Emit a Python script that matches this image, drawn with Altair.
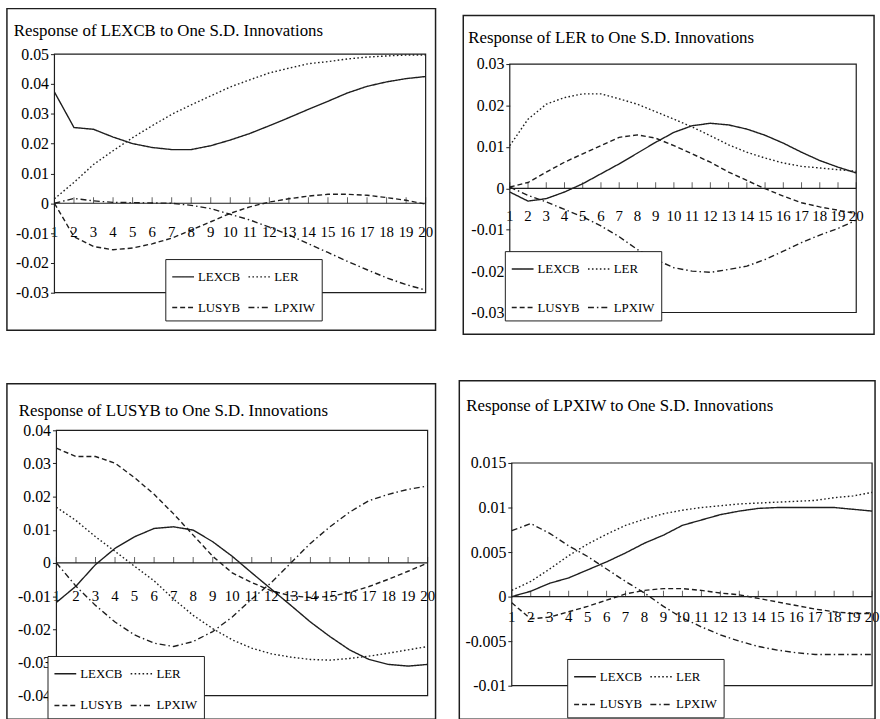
import altair as alt
import pandas as pd

FONT = "Liberation Serif"
INK = "#1e1e1e"

periods = list(range(1, 21))
series_names = ["LEXCB", "LER", "LUSYB", "LPXIW"]
dash_styles = [[1, 0], [1.6, 2.4], [5, 3], [6, 3, 1.5, 3]]

titles = [
    "Response of LEXCB to One S.D. Innovations",
    "Response of LER to One S.D. Innovations",
    "Response of LUSYB to One S.D. Innovations",
    "Response of LPXIW to One S.D. Innovations",
]

# Panel 1: response of LEXCB
p1_lexcb = [0.0373, 0.0254, 0.0248, 0.0222, 0.0200, 0.0187, 0.0180, 0.0180, 0.0193, 0.0212,
            0.0234, 0.0260, 0.0287, 0.0315, 0.0342, 0.0370, 0.0392, 0.0407, 0.0418, 0.0425]
p1_ler = [0.0015, 0.0070, 0.0130, 0.0176, 0.0220, 0.0260, 0.0298, 0.0330, 0.0360, 0.0390,
          0.0414, 0.0437, 0.0453, 0.0468, 0.0475, 0.0484, 0.0490, 0.0494, 0.0497, 0.0497]
p1_lusyb = [0.0000, -0.0112, -0.0145, -0.0156, -0.0150, -0.0136, -0.0117, -0.0090, -0.0062, -0.0034,
            -0.0012, 0.0004, 0.0015, 0.0024, 0.0030, 0.0030, 0.0027, 0.0019, 0.0010, -0.0003]
p1_lpxiw = [0.0000, 0.0016, 0.0008, 0.0003, 0.0002, 0.0001, 0.0000, -0.0007, -0.0018, -0.0037,
            -0.0056, -0.0080, -0.0106, -0.0136, -0.0165, -0.0195, -0.0223, -0.0250, -0.0273, -0.0291]

# Panel 2: response of LER
p2_lexcb = [-0.0009, -0.0031, -0.0025, -0.0009, 0.0011, 0.0035, 0.0059, 0.0085, 0.0111, 0.0135,
            0.0151, 0.0157, 0.0153, 0.0143, 0.0128, 0.0109, 0.0087, 0.0067, 0.0051, 0.0037]
p2_ler = [0.0103, 0.0167, 0.0203, 0.0219, 0.0228, 0.0228, 0.0216, 0.0203, 0.0185, 0.0167,
          0.0148, 0.0127, 0.0105, 0.0087, 0.0073, 0.0061, 0.0053, 0.0049, 0.0045, 0.0041]
p2_lusyb = [0.0003, 0.0014, 0.0039, 0.0063, 0.0083, 0.0103, 0.0123, 0.0129, 0.0121, 0.0103,
            0.0083, 0.0063, 0.0039, 0.0019, -0.0001, -0.0019, -0.0035, -0.0045, -0.0053, -0.0061]
p2_lpxiw = [0.0003, -0.0017, -0.0033, -0.0051, -0.0069, -0.0091, -0.0117, -0.0148, -0.0172, -0.0192,
            -0.0200, -0.0203, -0.0196, -0.0188, -0.0172, -0.0152, -0.0131, -0.0113, -0.0097, -0.0077]

# Panel 3: response of LUSYB
p3_lexcb = [-0.0119, -0.0070, -0.0005, 0.0044, 0.0079, 0.0104, 0.0109, 0.0099, 0.0064, 0.0020,
            -0.0030, -0.0079, -0.0128, -0.0178, -0.0222, -0.0262, -0.0291, -0.0306, -0.0311, -0.0306]
p3_ler = [0.0168, 0.0128, 0.0079, 0.0035, -0.0010, -0.0054, -0.0109, -0.0158, -0.0198, -0.0232,
          -0.0257, -0.0274, -0.0284, -0.0291, -0.0293, -0.0288, -0.0281, -0.0272, -0.0262, -0.0252]
p3_lusyb = [0.0346, 0.0321, 0.0321, 0.0301, 0.0257, 0.0207, 0.0148, 0.0084, 0.0020, -0.0030,
            -0.0059, -0.0084, -0.0099, -0.0104, -0.0101, -0.0089, -0.0071, -0.0049, -0.0025, 0.0000]
p3_lpxiw = [0.0000, -0.0070, -0.0128, -0.0178, -0.0217, -0.0242, -0.0252, -0.0237, -0.0207, -0.0163,
            -0.0109, -0.0059, 0.0000, 0.0059, 0.0109, 0.0153, 0.0188, 0.0207, 0.0222, 0.0232]

# Panel 4: response of LPXIW
p4_lexcb = [0.0000, 0.0006, 0.0015, 0.0021, 0.0030, 0.0039, 0.0049, 0.0060, 0.0069, 0.0080,
            0.0086, 0.0092, 0.0096, 0.0099, 0.0100, 0.0100, 0.0100, 0.0100, 0.0098, 0.0096]
p4_ler = [0.0007, 0.0017, 0.0031, 0.0046, 0.0059, 0.0070, 0.0080, 0.0087, 0.0093, 0.0097,
          0.0100, 0.0102, 0.0104, 0.0105, 0.0106, 0.0107, 0.0108, 0.0111, 0.0113, 0.0117]
p4_lusyb = [-0.0007, -0.0025, -0.0023, -0.0017, -0.0011, -0.0004, 0.0003, 0.0007, 0.0009, 0.0009,
            0.0007, 0.0004, 0.0002, -0.0002, -0.0006, -0.0010, -0.0014, -0.0017, -0.0019, -0.0019]
p4_lpxiw = [0.0074, 0.0082, 0.0071, 0.0057, 0.0045, 0.0031, 0.0017, 0.0004, -0.0011, -0.0024,
            -0.0034, -0.0043, -0.0050, -0.0056, -0.0060, -0.0063, -0.0065, -0.0065, -0.0065, -0.0065]

y_domains = [[-0.03, 0.05], [-0.03, 0.03], [-0.04, 0.04], [-0.01, 0.015]]
y_ticks = [
    [0.05, 0.04, 0.03, 0.02, 0.01, 0, -0.01, -0.02, -0.03],
    [0.03, 0.02, 0.01, 0, -0.01, -0.02, -0.03],
    [0.04, 0.03, 0.02, 0.01, 0, -0.01, -0.02, -0.03, -0.04],
    [0.015, 0.01, 0.005, 0, -0.005, -0.01],
]
panel_series = [
    [p1_lexcb, p1_ler, p1_lusyb, p1_lpxiw],
    [p2_lexcb, p2_ler, p2_lusyb, p2_lpxiw],
    [p3_lexcb, p3_ler, p3_lusyb, p3_lpxiw],
    [p4_lexcb, p4_ler, p4_lusyb, p4_lpxiw],
]

# Layout in pixels, relative to each panel's view origin:
# Wv/Hv view size, lead = frame top offset, plot box (px0, px1, py0, py1),
# title position, legend position / row padding, x label gap below the zero line
layouts = [
    dict(Wv=433, Hv=325, lead=0, px0=48, px1=423, py0=46, py1=287,
         tx=7, ty=28, lx=160, ly=253, rp=12, lp=22),
    dict(Wv=415, Hv=329, lead=7, px0=47, px1=397, py0=56, py1=307,
         tx=5, ty=35, lx=42, ly=245, rp=20, lp=21),
    dict(Wv=433, Hv=342, lead=3, px0=50, px1=425, py0=50, py1=318,
         tx=12, ty=36, lx=41, ly=278, rp=13, lp=26),
    dict(Wv=420, Hv=342, lead=0, px0=53, px1=417, py0=83, py1=308,
         tx=7, ty=31, lx=109, ly=281, rp=9, lp=14),
]


def make_panel(i):
    g = layouts[i]
    Wv, Hv = g["Wv"], g["Hv"]
    ymin, ymax = y_domains[i]
    rows = []
    for name, vals in zip(series_names, panel_series[i]):
        for p, v in zip(periods, vals):
            rows.append({"period": p, "series": name, "value": v})
    df = pd.DataFrame(rows)
    one = pd.DataFrame({"k": [0]})
    tick_df = pd.DataFrame({"period": periods})

    xscale = alt.Scale(domain=[1, 20], nice=False, zero=False, range=[g["px0"], g["px1"]])
    yscale = alt.Scale(domain=y_domains[i], nice=False, zero=False, range=[g["py1"], g["py0"]])

    lines = alt.Chart(df).mark_line(color=INK, strokeWidth=1.4).encode(
        x=alt.X("period:Q", scale=xscale, axis=None),
        y=alt.Y("value:Q", scale=yscale,
                axis=alt.Axis(values=y_ticks[i], format="~g",
                              labelExpr="replace(datum.label, '\u2212', '-')",
                              title=None, orient="left", offset=-g["px0"], tickSize=4,
                              labelPadding=2, domain=False, labelFontSize=16)),
        strokeDash=alt.StrokeDash(
            "series:N",
            scale=alt.Scale(domain=series_names, range=dash_styles),
            legend=alt.Legend(title=None, orient="none", legendX=g["lx"], legendY=g["ly"],
                              direction="horizontal", columns=2, rowPadding=g["rp"],
                              columnPadding=5, symbolType="stroke", symbolSize=484,
                              symbolStrokeWidth=1.4, symbolStrokeColor=INK, labelOffset=3,
                              padding=6, strokeColor=INK, fillColor="white",
                              labelFont=FONT, labelFontSize=13, labelColor="black")),
    )

    zero = alt.Chart(one).mark_rule(color=INK, strokeWidth=1.2).encode(
        x=alt.XDatum(1, axis=None), x2=alt.datum(20), y=alt.datum(0))
    ticks = alt.Chart(tick_df).mark_tick(orient="vertical", size=6, thickness=1, color=INK,
                                         yOffset=-3).encode(
        x=alt.X("period:Q", axis=None), y=alt.datum(0))
    xlabels = alt.Chart(tick_df).mark_text(baseline="top", align="center", dy=g["lp"],
                                           font=FONT, fontSize=15, color="black").encode(
        x=alt.X("period:Q", axis=None), y=alt.datum(0), text=alt.Text("period:Q", format="d"))
    plotbox = alt.Chart(one).mark_rect(filled=False, stroke=INK, strokeWidth=1.2).encode(
        x=alt.XDatum(1, axis=None), x2=alt.datum(20), y=alt.datum(ymin), y2=alt.datum(ymax))
    frame = alt.Chart(one).mark_rect(filled=False, stroke=INK, strokeWidth=1.5).encode(
        x=alt.value(0), x2=alt.value(Wv),
        y=alt.value(g["lead"]), y2=alt.value(Hv))
    title = alt.Chart(one).mark_text(align="left", baseline="alphabetic", font=FONT,
                                     fontSize=17, color="black").encode(
        x=alt.value(g["tx"]), y=alt.value(g["ty"]), text=alt.value(titles[i]))
    return alt.layer(lines, zero, ticks, xlabels, plotbox, frame, title).properties(
        width=Wv, height=Hv)


row1 = alt.hconcat(make_panel(0), make_panel(1), spacing=24).resolve_scale(
    strokeDash="independent").resolve_legend(strokeDash="independent")
row2 = alt.hconcat(make_panel(2), make_panel(3), spacing=20).resolve_scale(
    strokeDash="independent").resolve_legend(strokeDash="independent")

chart = alt.vconcat(row1, row2, spacing=43).resolve_scale(
    strokeDash="independent").resolve_legend(strokeDash="independent").properties(
    padding={"left": 5, "top": 3, "right": 0, "bottom": 0},
    background="white",
).configure_view(stroke="transparent").configure_axis(
    labelFont=FONT, labelColor="black", tickColor=INK, grid=False,
    labelOverlap=False, labelFlush=False
)

chart.save("out.html", embed_options={"renderer": "svg", "actions": False})
